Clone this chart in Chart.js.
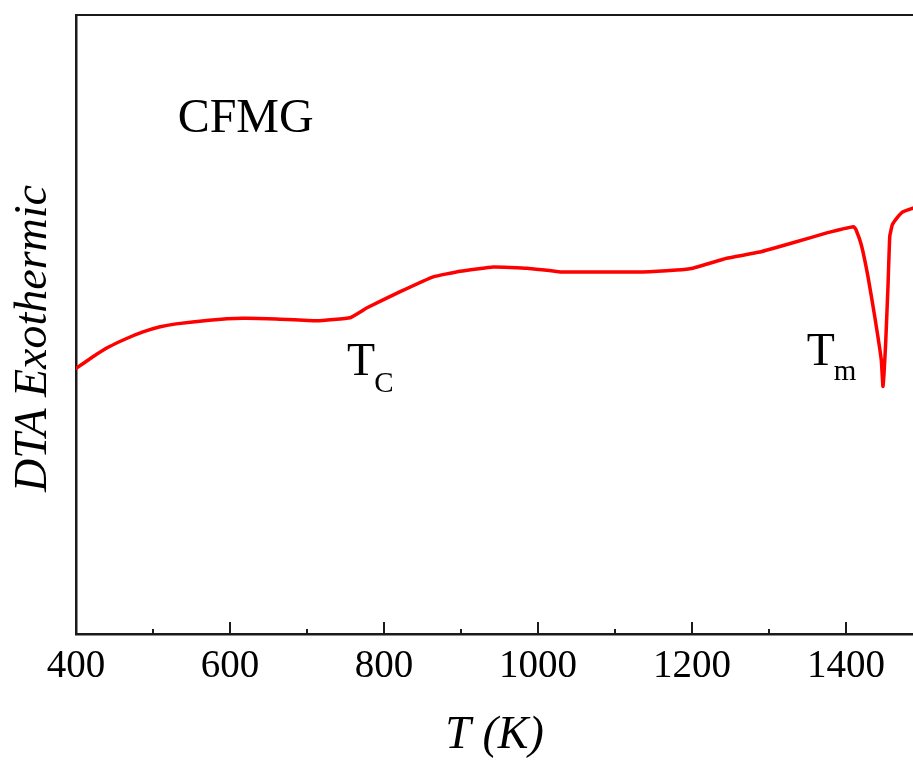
<!DOCTYPE html>
<html lang="en">
<head>
<meta charset="utf-8">
<title>DTA CFMG</title>
<script src="https://cdn.jsdelivr.net/npm/chart.js@4.4.1/dist/chart.umd.min.js"></script>
<style>
    html, body { margin: 0; padding: 0; background: #ffffff; }
    #contenedor { width: 913px; height: 764px; position: relative; }
</style>
</head>
<body>
<div id="contenedor"><canvas id="grafico-dta"></canvas></div>
<script>
// Datos (T en K, señal DTA en unidades arbitrarias)
const temperaturas = [400, 422, 443, 465, 487, 508, 530, 573, 616, 660, 713, 756, 778, 821, 864, 899, 942, 986, 1029,
    1071, 1136, 1180, 1201, 1223, 1245, 1288, 1331, 1375, 1410, 1413, 1420, 1428.6, 1437.3, 1445.8, 1448,
    1451.5, 1454.5, 1456.8, 1460.1, 1466, 1474, 1487];
const senalDTA = [42.9, 44.8, 46.4, 47.7, 48.8, 49.6, 50.1, 50.7, 51.0, 50.9, 50.6, 51.1, 52.7, 55.3, 57.7, 58.6, 59.3, 59.1, 58.5,
    58.5, 58.5, 58.8, 59.1, 59.9, 60.7, 61.7, 63.2, 64.8, 65.8, 65.3, 62.8, 57.7, 51.3, 44.3, 40.0,
    47.0, 56.1, 64.2, 66.1, 67.2, 68.2, 68.8];

// Marcas del eje X
const ticksMayores = [600, 800, 1000, 1200, 1400];
const ticksMenores = [500, 700, 900, 1100, 1300];

const fuente = "'Liberation Serif', 'Times New Roman', serif";
const colorEje = '#1a1a1a';

// Plugin para el marco superior, las marcas hacia adentro y los textos
const pluginDecoracion = {
    id: 'decoracion',
    afterDraw(chart) {
        const ctx = chart.ctx;
        const area = chart.chartArea;
        const x = chart.scales.x;
        const y = chart.scales.y;

        ctx.save();
        // Línea superior del marco
        ctx.strokeStyle = colorEje;
        ctx.lineWidth = 2;
        ctx.beginPath();
        ctx.moveTo(area.left, area.top);
        ctx.lineTo(area.right, area.top);
        ctx.stroke();

        // Marcas del eje X (hacia adentro)
        function marca(valor, largo) {
            const px = Math.round(x.getPixelForValue(valor));
            ctx.beginPath();
            ctx.moveTo(px, area.bottom);
            ctx.lineTo(px, area.bottom - largo);
            ctx.stroke();
        }
        ticksMayores.forEach(v => marca(v, 12));
        ticksMenores.forEach(v => marca(v, 5));

        // Título del eje Y
        ctx.fillStyle = '#000000';
        ctx.save();
        ctx.translate(34, (area.top + area.bottom) / 2 + 14);
        ctx.rotate(-Math.PI / 2);
        ctx.font = 'italic 46px ' + fuente;
        ctx.textAlign = 'center';
        ctx.textBaseline = 'middle';
        ctx.fillText('DTA Exothermic', 0, 0);
        ctx.restore();

        // Etiquetas dentro del gráfico
        ctx.textAlign = 'left';
        ctx.textBaseline = 'alphabetic';
        ctx.font = '48px ' + fuente;
        ctx.fillText('CFMG', x.getPixelForValue(532), y.getPixelForValue(81.1));

        function etiqueta(texto, sub, tx, ty, tySub) {
            const px = x.getPixelForValue(tx);
            ctx.font = '46px ' + fuente;
            ctx.fillText(texto, px, y.getPixelForValue(ty));
            const ancho = ctx.measureText(texto).width;
            ctx.font = '29px ' + fuente;
            ctx.fillText(sub, px + ancho - 1, y.getPixelForValue(tySub));
        }
        etiqueta('T', 'C', 752, 41.8, 39.1);
        etiqueta('T', 'm', 1349, 43.5, 41.0);
        ctx.restore();
    }
};

// Inicializar el gráfico
document.addEventListener('DOMContentLoaded', function () {
    const ctxDTA = document.getElementById('grafico-dta');
    new Chart(ctxDTA, {
        type: 'line',
        data: {
            labels: temperaturas,
            datasets: [{
                label: 'CFMG',
                data: temperaturas.map((t, i) => ({ x: t, y: senalDTA[i] })),
                borderColor: 'rgb(255, 0, 0)',
                borderWidth: 3.5,
                borderJoinStyle: 'round',
                borderCapStyle: 'round',
                pointRadius: 0,
                fill: false,
                tension: 0.1
            }]
        },
        options: {
            responsive: true,
            maintainAspectRatio: false,
            animation: false,
            devicePixelRatio: 1,
            layout: { padding: { top: 15, right: 0, left: 0, bottom: 0 } },
            plugins: {
                legend: { display: false },
                tooltip: { enabled: false }
            },
            scales: {
                x: {
                    type: 'linear',
                    min: 400,
                    max: 1487,
                    afterFit: scale => { scale.height = 130; },
                    grid: { display: false, drawTicks: false },
                    border: { display: true, color: colorEje, width: 2.5 },
                    ticks: {
                        stepSize: 200,
                        includeBounds: false,
                        maxRotation: 0,
                        padding: 9,
                        color: '#000000',
                        font: { family: fuente, size: 39 },
                        callback: valor => String(valor)
                    },
                    title: {
                        display: true,
                        text: 'T (K)',
                        color: '#000000',
                        padding: { top: 0, bottom: 0 },
                        font: { family: fuente, size: 46, style: 'italic' }
                    }
                },
                y: {
                    min: 0,
                    max: 100,
                    afterFit: scale => { scale.width = 76; },
                    grid: { display: false, drawTicks: false },
                    border: { display: true, color: colorEje, width: 2.5 },
                    ticks: { display: false }
                }
            }
        },
        plugins: [pluginDecoracion]
    });
});
</script>
</body>
</html>
